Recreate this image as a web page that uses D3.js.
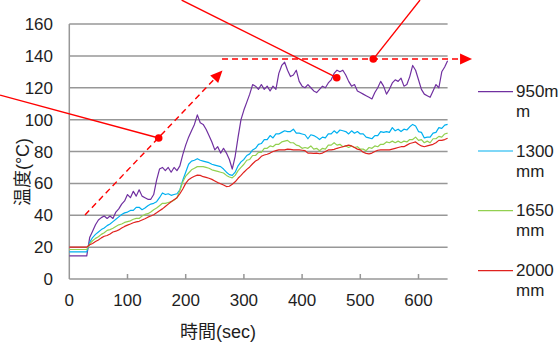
<!DOCTYPE html>
<html><head><meta charset="utf-8">
<script src="https://cdn.jsdelivr.net/npm/d3@7/dist/d3.min.js"></script>
<style>
html,body{margin:0;padding:0;background:#fff;}
svg{display:block;font-family:"Liberation Sans",Arial,"Noto Sans CJK JP",sans-serif;}
</style></head>
<body>
<svg id="c" width="559" height="343"></svg>
<script>
// ---- data ----
const times = d3.range(0, 651, 5); // sec
const yTicks = [0,20,40,60,80,100,120,140,160];
const xTicks = [0,100,200,300,400,500,600];
const seriesNames = ["950m\nm","1300\nmm","1650\nmm","2000\nmm"];
const s950 = [14.5,14.5,14.5,14.5,14.5,14.5,14.5,26,30,34,
 37,38.5,39.5,38,39.5,38,42,44,47,49,
 53,51,55,52,56,52,51,50,50,53,
 62,69,70,68,70,67,70,68,71,78,
 84,89,93,97,103,98,97,94,90,86,
 81,83,79,82,79,75,69,77,89,100,
 106,111,116,122,121,119,122,119,121,118,
 121,119,129,134,136,131,127,128,131,124,
 121,120,122,120,118,117,119,121,120,123,
 125,129,131,130,131,128,124,121,122,118,
 117,116,115,114,113,117,120,124,121,116,
 119,123,125,124,126,121,122,127,134,131,
 125,119,116,115,114,118,122,120,130,133,
 137];
const s1300 = [17,17,17,17,17,17,17,23,26,28,
 29.5,31,32,33.5,34.5,36,37.5,39,40.5,41.5,
 42,43,43,45,45,43.5,44.5,46,47,47.5,
 48.5,51,54,53,53.5,52.5,53,53.5,56,62,
 67,72,74,74.5,75.5,74.5,74,73.5,73,72,
 71.5,71,70.5,69,67,65.5,65,67,71,73.5,
 75,77.5,78.5,81,82,84.5,85,87.5,87.5,90,
 88.5,91,91,92,93,92.5,92.5,94,91.5,91.5,
 91,90.5,88,90.5,90,89,87.5,89,88.5,91,
 91,93,91.5,93.5,93,92.5,91,93,91.5,92.5,
 91,91,89,88.5,88,90,90,92.5,92,92.5,
 92,95,93,94,92.5,94,93.5,95.5,97,96,
 92.5,92,88.5,89,89,91.5,92,95,94.5,96.5,
 97];
const s1650 = [18.5,18.5,18.5,18.5,18.5,18.5,18.5,22,24,25.5,
 26.5,28,29,30.5,31,31.8,33,34,34.5,35.5,
 36,36.5,37.5,38,38,39.5,40.5,41,42,43.5,
 44.5,46,47.5,47.5,48,48.5,49.5,51,55.5,61,
 64.5,66.5,68.5,69.5,70.5,70.5,70.5,70,69.5,68.5,
 68,67.5,67,66.5,65,64,63.5,65,68,70,
 72,74.5,75,77.5,77.5,79.5,79.5,82,82,83.5,
 83,84.5,84.5,86,86.5,87,85.5,85.5,84,83.5,
 82,82.5,82,83.5,81.5,82,80.5,82,81.5,84,
 84,85.5,84,84.5,83,83.5,82.5,83.5,82.5,83,
 81.5,81.5,80.5,82.5,82,83.5,83,84.5,84.5,86,
 85.5,86.5,85.5,86.5,85.5,86.5,86,87.5,87.5,89,
 87,87.5,85.5,86.5,85.5,88,88,89.5,89,91,
 91.5];
const s2000 = [20,20,20,20,20,20,20,21.5,22.3,23.5,
 24.5,25.8,26.8,27.3,28.2,29.5,30,30.8,32,33,
 33.8,34.5,35.3,35.8,36.2,37,37.8,38.8,39.5,40.3,
 41.5,42.8,44,45.5,47,48.5,49.8,51,53.5,56.5,
 60,62.3,63.5,64.5,65.2,65,64.2,63.8,63.2,62.5,
 61.5,60.5,59.8,59,58,58.2,59.5,61,63.2,65,
 67,68.8,70.3,72.3,74,75,77,77.8,78.3,79,
 80,80.5,81,81,81,81.5,81.3,81,81,81,
 80.8,80.5,79,79,78.8,79,78.6,79,80,81,
 81,81.3,82,82.5,83,83.5,84,83.5,82.5,81.5,
 81,79.5,78.8,78.5,79,80,80.8,81,81,81,
 81,81.5,82,82.5,83,83,84,85,85.5,86,
 84.5,83.5,83,83.5,84,84.5,85.5,87,87,87.5,
 88.3];
// annotation anchors in data units [t, value]
const leaderLeft = [[-119,115.4],[153.6,88.5]];
const leaderTop = [[193,175],[459.5,126.3]];
const leaderRight = [[522.3,138],[602.6,175]];
const rampArrow = [[27,40.2],[263.2,130.8]];
const plateauArrow = [[262.4,138],[692,138]];

// ---- layout ----
const colors = ["#7030a0","#00b0f0","#92d050","#e0221e"];
const series = [s950,s1300,s1650,s2000];
const svg = d3.select("#c");
const x = d3.scaleLinear().domain([0,650]).range([69.3,447.6]);
const y = d3.scaleLinear().domain([0,160]).range([279,24]);
const txt = "#1e1e1e";

// gridlines
svg.append("g").selectAll("line").data(yTicks.filter(d=>d>0)).join("line")
  .attr("x1",x(0)).attr("x2",x(650)).attr("y1",d=>y(d)).attr("y2",d=>y(d))
  .attr("stroke","#979797").attr("stroke-width",1.5);
// axes lines
svg.append("line").attr("x1",x(0)).attr("x2",x(0)).attr("y1",y(0)).attr("y2",y(160))
  .attr("stroke","#979797").attr("stroke-width",1.5);
svg.append("line").attr("x1",x(0)).attr("x2",x(650)).attr("y1",y(0)).attr("y2",y(0))
  .attr("stroke","#979797").attr("stroke-width",1.5);
svg.append("g").selectAll("line").data(xTicks.filter(d=>d>0)).join("line")
  .attr("x1",d=>x(d)).attr("x2",d=>x(d)).attr("y1",y(0)).attr("y2",y(0)-5)
  .attr("stroke","#979797").attr("stroke-width",1.5);

// tick labels
svg.append("g").selectAll("text").data(yTicks).join("text")
  .attr("x",53).attr("y",d=>y(d)).attr("dy","0.36em").attr("text-anchor","end")
  .attr("font-size",17).attr("fill",txt).text(d=>d);
svg.append("g").selectAll("text").data(xTicks).join("text")
  .attr("x",d=>x(d)).attr("y",306).attr("text-anchor","middle")
  .attr("font-size",17).attr("fill",txt).text(d=>d);

// axis titles
svg.append("text").attr("x",218).attr("y",338).attr("text-anchor","middle")
  .attr("font-size",18).attr("fill",txt).text("時間(sec)");
svg.append("text").attr("transform","translate(29,172) rotate(-90)").attr("text-anchor","middle")
  .attr("font-size",18).attr("fill",txt).text("温度(°C)");

// series
const line = d3.line().x((d,i)=>x(times[i])).y(d=>y(d));
series.forEach((s,k)=>{
  svg.append("path").datum(s).attr("d",line).attr("fill","none")
    .attr("stroke",colors[k]).attr("stroke-width",1.2).attr("stroke-linejoin","round");
});

// annotations
const red = "#ff0000";
const pl = d3.line().x(d=>x(d[0])).y(d=>y(d[1]));
[leaderLeft,leaderTop,leaderRight].forEach(seg=>{
  svg.append("path").attr("d",pl(seg)).attr("stroke",red).attr("stroke-width",1.4).attr("fill","none");
});
svg.append("circle").attr("cx",x(leaderLeft[1][0])).attr("cy",y(leaderLeft[1][1])).attr("r",3.8).attr("fill",red);
svg.append("circle").attr("cx",x(leaderTop[1][0])).attr("cy",y(leaderTop[1][1])).attr("r",3.8).attr("fill",red);
svg.append("circle").attr("cx",x(leaderRight[0][0])).attr("cy",y(leaderRight[0][1])).attr("r",3.8).attr("fill",red);

function dashedArrow(seg){
  const x1=x(seg[0][0]), y1=y(seg[0][1]), x2=x(seg[1][0]), y2=y(seg[1][1]);
  const dx=x2-x1, dy=y2-y1, L=Math.hypot(dx,dy), ux=dx/L, uy=dy/L;
  const hl=12, hw=5.5;
  const bx=x2-ux*hl, by=y2-uy*hl;
  svg.append("line").attr("x1",x1).attr("y1",y1).attr("x2",bx).attr("y2",by)
    .attr("stroke",red).attr("stroke-width",1.4).attr("stroke-dasharray","6,4");
  svg.append("path").attr("d",`M${x2},${y2}L${bx-uy*hw},${by+ux*hw}L${bx+uy*hw},${by-ux*hw}Z`).attr("fill",red);
}
dashedArrow(rampArrow);
dashedArrow(plateauArrow);

// legend
const legY = [91.7,151,210.7,270.7];
seriesNames.forEach((n,k)=>{
  svg.append("line").attr("x1",478).attr("x2",513).attr("y1",legY[k]).attr("y2",legY[k])
    .attr("stroke",colors[k]).attr("stroke-width",1.2);
  const t = svg.append("text").attr("x",516).attr("y",legY[k]+5.5).attr("font-size",17).attr("fill",txt);
  n.split("\n").forEach((p,i)=>{
    t.append("tspan").attr("x",516).attr("dy",i?20:0).text(p);
  });
});
</script>
</body></html>
